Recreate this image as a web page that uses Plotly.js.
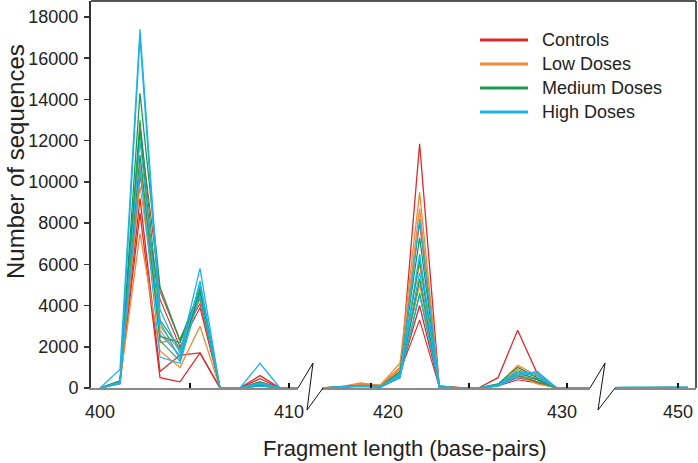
<!DOCTYPE html>
<html>
<head>
<meta charset="utf-8">
<script src="https://cdn.plot.ly/plotly-3.0.1.min.js"></script>
<style>html,body{margin:0;padding:0;background:#fff;}#chart{width:698px;height:463px;}</style>
</head>
<body>
<div id="chart"></div>
<script>
// ---- Data ----
const groupNames = ["Controls", "Low Doses", "Medium Doses", "High Doses"];
const groupColors = ["#dc2a2e", "#f08a34", "#1d9a50", "#1eb3e6"];

const seg1X = [400, 401, 402, 403, 404, 405, 406, 407, 408, 409, 410];
const seg2X = [417, 418, 419, 420, 421, 422, 423, 424, 425, 426, 427, 428, 429, 430, 431];
const seg3X = [445, 446, 447, 448, 449, 450];

const xTickLabels = ["400", "410", "420", "430", "450"];
const yTickVals = [0, 2000, 4000, 6000, 8000, 10000, 12000, 14000, 16000, 18000];
const yTickText = ["0", "2000", "4000", "6000", "8000", "10000", "12000", "14000", "16000", "18000"];

const controlsSeg1 = [
  [0, 250, 8500, 500, 300, 1700, 0, 0, 600, 0, 0],
  [0, 300, 9200, 800, 1600, 1700, 0, 0, 450, 0, 0],
  [0, 200, 10300, 4300, 2000, 3900, 0, 0, 200, 0, 0],
  [0, 350, 12600, 4700, 2300, 4100, 0, 0, 300, 0, 0]
];
const controlsSeg2 = [
  [0, 50, 100, 50, 500, 11850, 100, 0, 0, 500, 2800, 700, 0, 0, 0],
  [0, 30, 150, 80, 700, 4000, 80, 0, 0, 150, 500, 300, 0, 0, 0],
  [0, 40, 120, 60, 800, 3300, 60, 0, 0, 100, 400, 250, 0, 0, 0],
  [0, 50, 200, 100, 1000, 8000, 100, 30, 0, 120, 600, 400, 0, 0, 0]
];
const controlsSeg3 = [
  [0, 10, 20, 10, 30, 10], [0, 20, 10, 20, 10, 0], [0, 0, 10, 30, 20, 10], [0, 10, 0, 10, 20, 10]
];

const lowSeg1 = [
  [0, 300, 7500, 1800, 1000, 3000, 0, 0, 150, 0, 0],
  [0, 250, 10800, 2200, 2400, 4300, 0, 0, 100, 0, 0],
  [0, 200, 9800, 2800, 1500, 4500, 0, 0, 100, 0, 0],
  [0, 300, 11200, 3000, 1800, 4700, 0, 0, 200, 0, 0]
];
const lowSeg2 = [
  [0, 80, 200, 150, 1200, 9500, 100, 0, 0, 150, 1100, 600, 0, 0, 0],
  [0, 60, 250, 120, 1000, 8700, 80, 0, 0, 100, 900, 500, 0, 0, 0],
  [0, 50, 150, 100, 900, 6000, 60, 0, 0, 80, 700, 300, 0, 0, 0],
  [0, 40, 100, 80, 700, 5000, 50, 0, 0, 100, 600, 200, 0, 0, 0]
];
const lowSeg3 = [
  [0, 20, 10, 20, 10, 20], [0, 10, 30, 10, 20, 10], [0, 10, 10, 20, 30, 10], [0, 20, 10, 10, 10, 20]
];

const mediumSeg1 = [
  [0, 250, 14300, 4900, 2300, 4800, 0, 0, 300, 0, 0],
  [0, 300, 12500, 2500, 2200, 4600, 0, 0, 200, 0, 0],
  [0, 350, 11300, 2300, 1300, 4900, 0, 0, 100, 0, 0],
  [0, 280, 13000, 3300, 1900, 4400, 0, 0, 150, 0, 0]
];
const mediumSeg2 = [
  [0, 40, 100, 60, 800, 7300, 80, 0, 0, 200, 1000, 500, 0, 0, 0],
  [0, 30, 80, 50, 600, 5300, 60, 0, 0, 150, 800, 400, 0, 0, 0],
  [0, 50, 120, 80, 700, 6200, 50, 0, 0, 180, 700, 450, 0, 0, 0],
  [0, 60, 100, 60, 500, 4600, 60, 0, 0, 100, 600, 300, 0, 0, 0]
];
const mediumSeg3 = [
  [0, 10, 20, 20, 10, 30], [0, 20, 10, 30, 20, 10], [0, 10, 20, 10, 20, 20], [0, 30, 10, 20, 10, 10]
];

const highSeg1 = [
  [0, 900, 17400, 3800, 1700, 5800, 0, 0, 1200, 0, 0],
  [0, 300, 17000, 3200, 1400, 5200, 0, 0, 250, 0, 0],
  [0, 250, 10600, 1500, 1200, 4500, 0, 0, 100, 0, 0],
  [0, 200, 12000, 2600, 1600, 5000, 0, 0, 200, 0, 0]
];
const highSeg2 = [
  [0, 30, 80, 50, 500, 8200, 70, 0, 0, 150, 800, 700, 0, 0, 0],
  [0, 40, 100, 60, 600, 6500, 60, 0, 0, 100, 600, 800, 0, 0, 0],
  [0, 50, 90, 70, 550, 4500, 50, 0, 0, 120, 700, 600, 0, 0, 0],
  [0, 50, 120, 60, 700, 5600, 50, 0, 0, 100, 500, 500, 0, 0, 0]
];
const highSeg3 = [
  [0, 20, 30, 20, 40, 30], [0, 30, 20, 30, 20, 40], [0, 20, 20, 40, 30, 20], [0, 30, 40, 20, 30, 30]
];

// ---- Build traces ----
const groups = [
  [controlsSeg1, controlsSeg2, controlsSeg3],
  [lowSeg1, lowSeg2, lowSeg3],
  [mediumSeg1, mediumSeg2, mediumSeg3],
  [highSeg1, highSeg2, highSeg3]
];
const segX = [seg1X, seg2X, seg3X];
const segAxis = ["x", "x2", "x3"];
const traces = [];
groups.forEach((g, gi) => {
  g.forEach((seg, si) => {
    seg.forEach((ys, ri) => {
      traces.push({
        type: "scatter", mode: "lines",
        x: segX[si], y: ys,
        xaxis: segAxis[si], yaxis: "y",
        line: { color: groupColors[gi], width: ri < 2 ? 1.3 : 1.1 },
        showlegend: false, hoverinfo: "skip"
      });
    });
  });
});

// ---- Geometry helpers (pixel -> paper) ----
const L = 91, R = 696, T = 1, B = 388;
const W = R - L, H = B - T;
const px = X => (X - L) / W;
const py = Y => (B - Y) / H;

const font = "Liberation Sans, Arial, sans-serif";
const xBase = {
  showline: true, linecolor: "#8a8a8a", linewidth: 1.5,
  ticks: "inside", ticklen: 5, tickwidth: 2, tickcolor: "#111",
  showticklabels: false, showgrid: false, zeroline: false, anchor: "y", fixedrange: true
};

const annotations = [];
// x tick labels
const xLabelPos = [[400, "x"], [409.45, "x"], [420.38, "x2"], [429.26, "x2"], [449.5, "x3"]];
xTickLabels.forEach((t, i) => {
  annotations.push({
    text: t, x: xLabelPos[i][0], xref: xLabelPos[i][1], y: py(412), yref: "paper",
    xanchor: "center", yanchor: "middle", showarrow: false,
    font: { family: font, size: 18, color: "#222" }
  });
});
// axis titles
annotations.push({
  text: "Number of sequences", x: px(15), y: py(162), xref: "paper", yref: "paper",
  xanchor: "center", yanchor: "middle", showarrow: false, textangle: -90,
  font: { family: font, size: 24, color: "#222" }
});
annotations.push({
  text: "Fragment length (base-pairs)", x: px(404.5), y: py(448), xref: "paper", yref: "paper",
  xanchor: "center", yanchor: "middle", showarrow: false,
  font: { family: font, size: 22, color: "#222" }
});

const shapes = [];
// custom legend
const legendRows = [40, 64, 88, 112];
groupNames.forEach((name, i) => {
  shapes.push({
    type: "line", xref: "paper", yref: "paper",
    x0: px(480), x1: px(528), y0: py(legendRows[i]), y1: py(legendRows[i]),
    line: { color: groupColors[i], width: 3 }
  });
  annotations.push({
    text: name, x: px(540), y: py(legendRows[i]), xref: "paper", yref: "paper",
    xanchor: "left", yanchor: "middle", showarrow: false,
    font: { family: font, size: 18, color: "#222" }
  });
});
// frame (top & right)
shapes.push({ type: "line", xref: "paper", yref: "paper", x0: 0, x1: 1, y0: 1, y1: 1, line: { color: "#555", width: 2 } });
shapes.push({ type: "line", xref: "paper", yref: "paper", x0: 1, x1: 1, y0: 0, y1: 1, line: { color: "#555", width: 2 } });
// axis-break zigzags
function zig(a) {
  return "M" + px(a[0][0]) + "," + py(a[0][1]) +
    a.slice(1).map(p => "L" + px(p[0]) + "," + py(p[1])).join("");
}
shapes.push({ type: "path", xref: "paper", yref: "paper",
  path: zig([[298, 388], [313, 363], [307, 410], [323, 388]]), line: { color: "#111", width: 1 } });
shapes.push({ type: "path", xref: "paper", yref: "paper",
  path: zig([[590, 388], [605, 363], [598, 410], [615, 388]]), line: { color: "#111", width: 1 } });

const layout = {
  width: 698, height: 463,
  margin: { l: L, r: 698 - R, t: T, b: 463 - B, pad: 0 },
  paper_bgcolor: "#fff", plot_bgcolor: "rgba(0,0,0,0)",
  showlegend: false,
  xaxis: Object.assign({}, xBase, { domain: [0, px(298)], range: [399.55, 409.9], tickvals: [404.5, 409.45] }),
  xaxis2: Object.assign({}, xBase, { domain: [px(322), px(590)], range: [417.02, 430.69], tickvals: [419.5, 424.5, 429.5] }),
  xaxis3: Object.assign({}, xBase, { domain: [px(615), 1], range: [446.3, 450.43], tickvals: [449.5] }),
  yaxis: {
    range: [0, 18776], tickvals: yTickVals, ticktext: yTickText, anchor: "x",
    showline: true, linecolor: "#333", linewidth: 2,
    ticks: "outside", ticklen: 5, tickwidth: 1.5, tickcolor: "#333",
    tickfont: { family: font, size: 18, color: "#222" }, ticklabelstandoff: 2,
    showgrid: false, zeroline: false, fixedrange: true
  },
  annotations: annotations,
  shapes: shapes
};

Plotly.newPlot("chart", traces, layout, { staticPlot: true, displayModeBar: false });
</script>
</body>
</html>
